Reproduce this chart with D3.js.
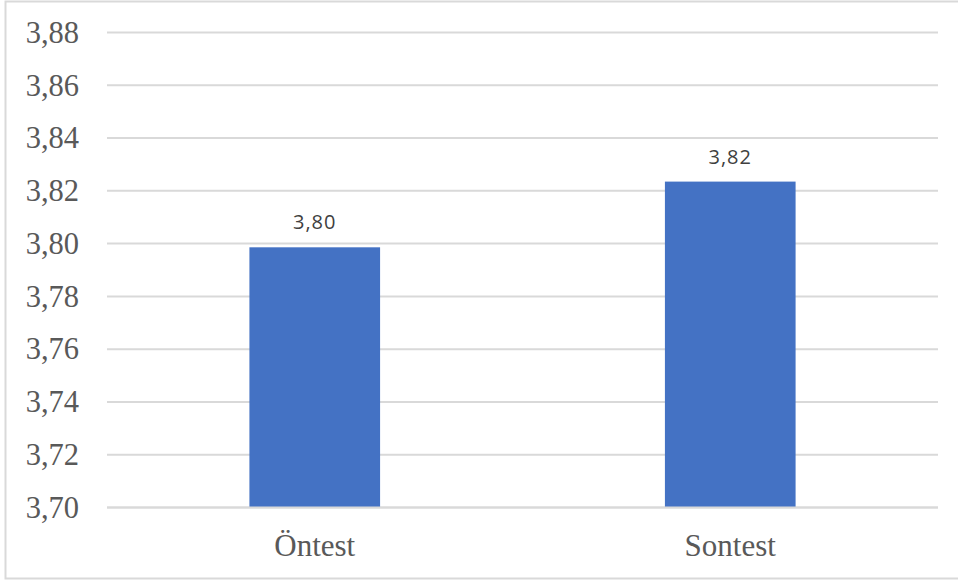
<!DOCTYPE html>
<html>
<head>
<meta charset="utf-8">
<script src="https://cdn.jsdelivr.net/npm/d3@7"></script>
<style>
  body { margin: 0; background: #fff; }
  svg { display: block; }
</style>
</head>
<body>
<div id="chart"></div>
<script>
// chart values
var categories = ["Öntest", "Sontest"];
var values = [3.7986, 3.8235];
var labels = ["3,80", "3,82"];
var yTicks = [3.70, 3.72, 3.74, 3.76, 3.78, 3.80, 3.82, 3.84, 3.86, 3.88];

var W = 958, H = 581;
var margin = {top: 32.5, right: 20, bottom: 73.5, left: 107},
    width = 938 - margin.left,
    height = H - margin.top - margin.bottom;

var svg = d3.select("#chart").append("svg")
    .attr("width", W)
    .attr("height", H);

// outer frame
svg.append("rect")
    .attr("x", 5.5).attr("y", 1.5)
    .attr("width", 960).attr("height", 577)
    .attr("fill", "#fff")
    .attr("stroke", "#d9d9d9")
    .attr("stroke-width", 2);

var g = svg.append("g")
    .attr("transform", "translate(" + margin.left + "," + margin.top + ")");

var x = d3.scaleBand().domain(categories).range([0, width])
    .paddingInner(0.6855).paddingOuter(0.6855 / 2);
var y = d3.scaleLinear().domain([3.70, 3.88]).range([height, 0]);

var fmt = function(d) { return d3.format(".2f")(d).replace(".", ","); };

// gridlines
g.selectAll("line.grid")
    .data(yTicks)
    .enter().append("line")
    .attr("class", "grid")
    .attr("x1", 0).attr("x2", width)
    .attr("y1", function(d) { return y(d); })
    .attr("y2", function(d) { return y(d); })
    .attr("stroke", "#d9d9d9")
    .attr("stroke-width", 2);

// y axis labels
var yAxis = d3.axisLeft(y).tickValues(yTicks).tickFormat(fmt).tickSize(0).tickPadding(28);
g.append("g").attr("class", "y axis").call(yAxis)
    .call(function(s) { s.select(".domain").remove(); })
    .selectAll("text")
    .attr("fill", "#595959")
    .style("font-family", "'Liberation Serif', 'Times New Roman', serif")
    .style("font-size", "30.5px");

// bars
g.selectAll("rect.bar")
    .data(values)
    .enter().append("rect")
    .attr("class", "bar")
    .attr("x", function(d, i) { return x(categories[i]); })
    .attr("width", x.bandwidth())
    .attr("y", function(d) { return y(d); })
    .attr("height", function(d) { return height - y(d); })
    .attr("fill", "#4472c4");

// redraw baseline gridline over bars
g.append("line")
    .attr("x1", 0).attr("x2", width)
    .attr("y1", height).attr("y2", height)
    .attr("stroke", "#d9d9d9").attr("stroke-width", 2);

// data labels
g.selectAll("text.val")
    .data(values)
    .enter().append("text")
    .attr("class", "val")
    .attr("x", function(d, i) { return x(categories[i]) + x.bandwidth() / 2; })
    .attr("y", function(d) { return y(d) - 18; })
    .attr("text-anchor", "middle")
    .attr("fill", "#404040")
    .style("font-family", "'Open Sans', 'Noto Sans', sans-serif")
    .style("font-size", "20px")
    .style("letter-spacing", "1px")
    .text(function(d, i) { return labels[i]; });

// x axis labels
var xAxis = d3.axisBottom(x).tickSize(0).tickPadding(26);
g.append("g").attr("class", "x axis")
    .attr("transform", "translate(0," + height + ")")
    .call(xAxis)
    .call(function(s) { s.select(".domain").remove(); })
    .selectAll("text")
    .attr("fill", "#595959")
    .style("font-family", "'Liberation Serif', 'Times New Roman', serif")
    .style("font-size", "31px");
</script>
</body>
</html>
